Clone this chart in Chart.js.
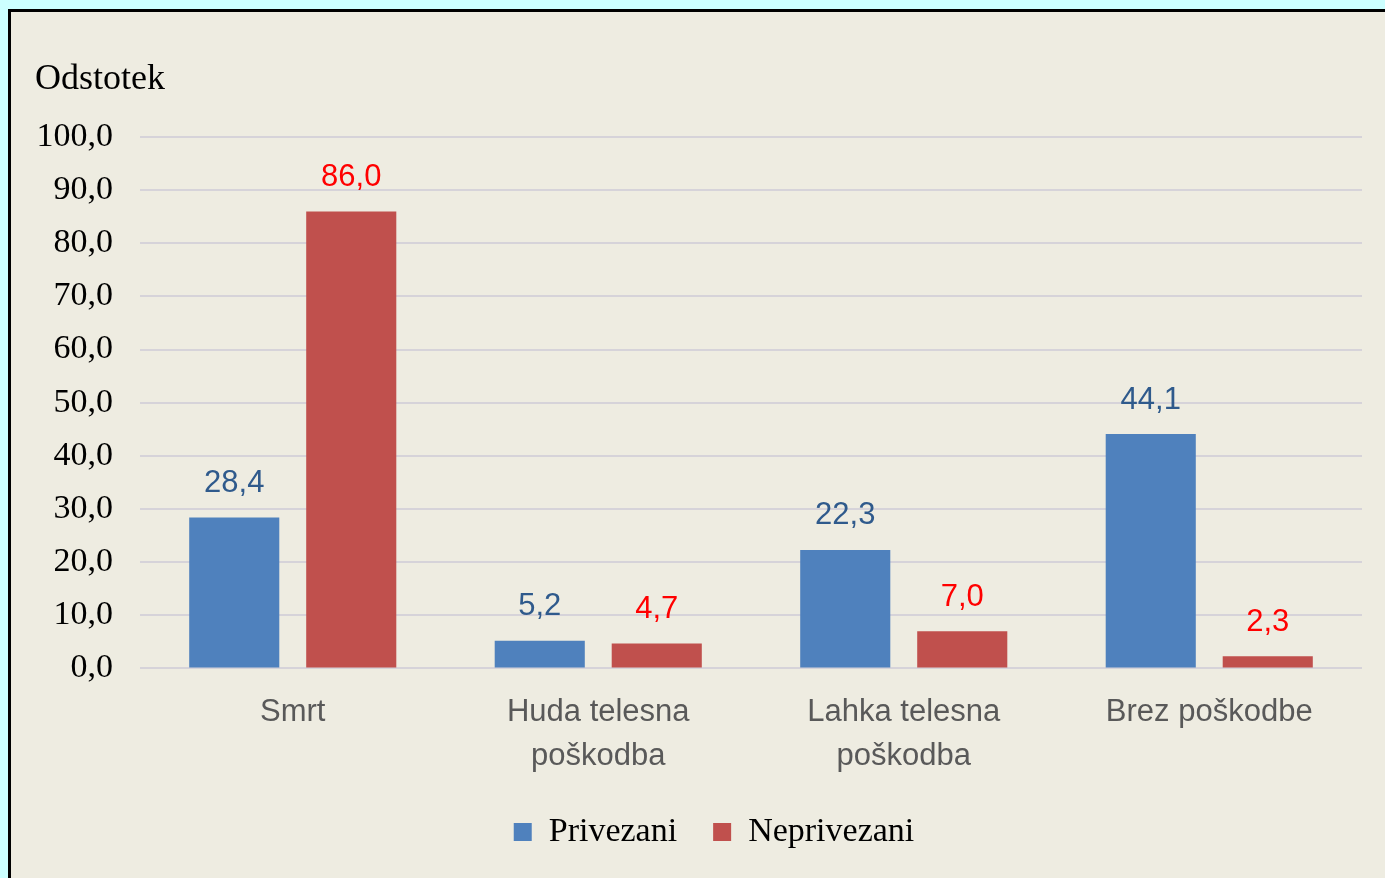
<!DOCTYPE html>
<html lang="sl">
<head>
<meta charset="utf-8">
<title>Odstotek po izidu nesreče</title>
<script src="https://cdn.jsdelivr.net/npm/chart.js@4.4.1/dist/chart.umd.min.js"></script>
<style>
  html, body { margin: 0; padding: 0; width: 1385px; height: 878px; overflow: hidden; background: #CCFFFF; }
  #frame {
    position: absolute; left: 8px; top: 9px; width: 1400px; height: 900px;
    border-left: 3px solid #000; border-top: 3px solid #000;
    background: #EEECE1;
  }
  #chart { position: absolute; left: 0; top: 0; }
</style>
</head>
<body>
<div id="frame"></div>
<canvas id="chart" width="1385" height="878"></canvas>
<script>
// Outcome categories (second line wraps under the first)
const categories = [
  ['Smrt'],
  ['Huda telesna', 'poškodba'],
  ['Lahka telesna', 'poškodba'],
  ['Brez poškodbe']
];
const seriesNames = ['Privezani', 'Neprivezani'];
const privezani = [28.4, 5.2, 22.3, 44.1];
const neprivezani = [86.0, 4.7, 7.0, 2.3];
const yTicks = [0, 10, 20, 30, 40, 50, 60, 70, 80, 90, 100];
const yTitle = 'Odstotek';

const BLUE = '#4F81BD';
const RED = '#C0504D';
const fmt = v => v.toFixed(1).replace('.', ',');

const PLOT_LEFT = 140;
const LEGEND_SHIFT = 33;

// Axis title in the top-left corner
const axisTitle = {
  id: 'axisTitle',
  afterDraw(chart) {
    const ctx = chart.ctx;
    ctx.save();
    ctx.font = '36px "Liberation Serif", "Times New Roman", serif';
    ctx.fillStyle = '#000';
    ctx.textAlign = 'left';
    ctx.textBaseline = 'middle';
    ctx.fillText(yTitle, 35, 80);
    ctx.restore();
  }
};

// Centre the legend under the plot area rather than the whole canvas
const legendOffset = {
  id: 'legendOffset',
  afterLayout(chart) {
    const lg = chart.legend;
    if (lg) { lg.left += LEGEND_SHIFT; lg.right += LEGEND_SHIFT; }
  }
};

// Value labels above each bar
const valueLabels = {
  id: 'valueLabels',
  afterDatasetsDraw(chart) {
    const ctx = chart.ctx;
    const colors = ['#2F5A8C', '#FF0000'];
    ctx.save();
    ctx.font = '31px "Liberation Sans", Arial, sans-serif';
    ctx.textAlign = 'center';
    ctx.textBaseline = 'middle';
    chart.data.datasets.forEach((ds, i) => {
      const meta = chart.getDatasetMeta(i);
      ctx.fillStyle = colors[i];
      meta.data.forEach((bar, j) => {
        ctx.fillText(fmt(ds.data[j]), bar.x, bar.y - 34);
      });
    });
    ctx.restore();
  }
};

new Chart(document.getElementById('chart'), {
  type: 'bar',
  data: {
    labels: categories,
    datasets: [
      { label: seriesNames[0], data: privezani, backgroundColor: BLUE },
      { label: seriesNames[1], data: neprivezani, backgroundColor: RED }
    ]
  },
  options: {
    responsive: false,
    animation: false,
    devicePixelRatio: 1,
    categoryPercentage: 0.766,
    barPercentage: 0.77,
    layout: { padding: { top: 137, right: 23, bottom: 19, left: 0 } },
    plugins: {
      tooltip: { enabled: false },
      legend: {
        position: 'bottom',
        labels: {
          boxWidth: 18,
          boxHeight: 18,
          padding: 36,
          color: '#000',
          font: { family: '"Liberation Serif", "Times New Roman", serif', size: 34 }
        }
      }
    },
    scales: {
      x: {
        grid: { display: false },
        border: { display: false },
        afterFit: s => { s.height = 110.6; },
        ticks: {
          padding: 14,
          color: '#595959',
          font: { family: '"Liberation Sans", Arial, sans-serif', size: 31, lineHeight: '44px' }
        }
      },
      y: {
        min: 0,
        max: 100,
        afterFit: s => { s.width = PLOT_LEFT; },
        afterBuildTicks: s => { s.ticks = yTicks.map(v => ({ value: v })); },
        border: { display: false },
        grid: { color: '#D6D3D9', lineWidth: 2, drawTicks: false },
        ticks: {
          padding: 27,
          color: '#000',
          font: { family: '"Liberation Serif", "Times New Roman", serif', size: 34 },
          callback: v => fmt(v)
        }
      }
    }
  },
  plugins: [axisTitle, legendOffset, valueLabels]
});
</script>
</body>
</html>
